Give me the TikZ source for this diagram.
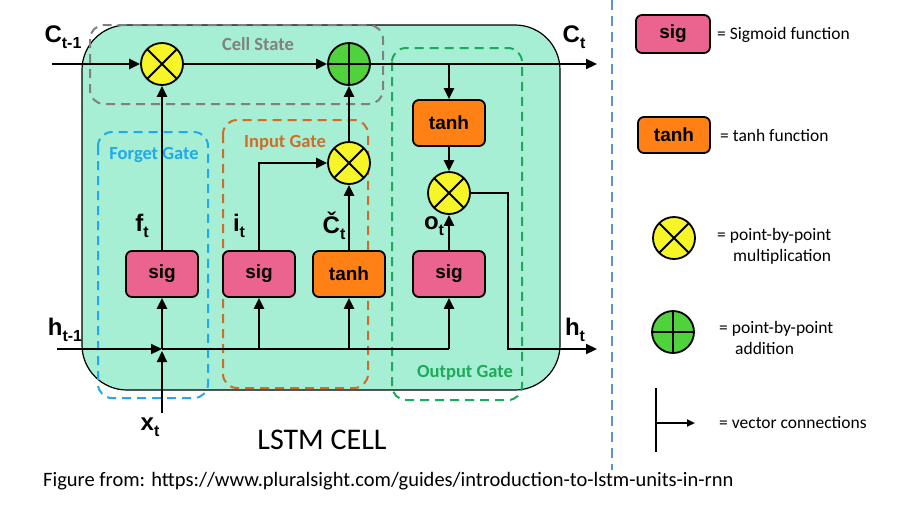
\documentclass[tikz,border=0pt]{standalone}
\usepackage{fontspec}
\setmainfont{Carlito}
\newfontfamily\lab{Liberation Sans}
\usetikzlibrary{arrows.meta}
\definecolor{mint}{RGB}{166,238,212}
\definecolor{sigpink}{RGB}{234,100,143}
\definecolor{tanhorange}{RGB}{255,128,20}
\definecolor{opyellow}{RGB}{245,245,40}
\definecolor{opgreen}{RGB}{80,210,60}
\definecolor{cellgray}{RGB}{128,128,128}
\definecolor{forgetblue}{RGB}{30,170,235}
\definecolor{inputorange}{RGB}{205,110,40}
\definecolor{outgreen}{RGB}{30,170,90}
\definecolor{sepblue}{RGB}{90,145,215}
\newcommand\sbs[1]{\raisebox{-0.5ex}{\fontsize{16}{16}\selectfont #1}}
\begin{document}
\begin{tikzpicture}[x=1pt,y=-1pt,
  wire/.style={line width=2.2pt},
  conn/.style={line width=2.2pt,-{Triangle[length=11pt,width=10pt]}},
  fbox/.style={draw,line width=1.8pt,rounded corners=6pt,minimum width=72pt,minimum height=46pt,inner sep=0pt,font=\lab\bfseries\fontsize{19}{19}\selectfont},
  sigbox/.style={fbox,fill=sigpink},
  tanhbox/.style={fbox,fill=tanhorange},
  mulop/.style={circle,draw,line width=1.8pt,fill=opyellow,minimum size=42pt,inner sep=0pt,
    path picture={\draw[line width=1.8pt] (path picture bounding box.north west)--(path picture bounding box.south east)
      (path picture bounding box.north east)--(path picture bounding box.south west);}},
  addop/.style={circle,draw,line width=1.8pt,fill=opgreen,minimum size=42pt,inner sep=0pt,
    path picture={\draw[line width=1.8pt] (path picture bounding box.north)--(path picture bounding box.south)
      (path picture bounding box.east)--(path picture bounding box.west);}},
  var/.style={font=\lab\bfseries\fontsize{24}{24}\selectfont,inner sep=0pt},
  gatebox/.style={dashed,dash pattern=on 9pt off 6pt,line width=2pt,rounded corners=14pt},
  gatelabel/.style={font=\bfseries\fontsize{18.5}{18.5}\selectfont,inner sep=0pt},
  legtext/.style={font=\fontsize{17.5}{21}\selectfont,anchor=west,align=left,inner sep=0pt}
]
\useasboundingbox (0,0) rectangle (909,528);
% main cell
\draw[fill=mint,line width=1.2pt,rounded corners=45pt] (82,25) rectangle (560,390);
% gate regions
\draw[gatebox,cellgray] (90,25) rectangle (383,104);
\node[gatelabel,cellgray] (lcell) at (258,44) {Cell State};
\draw[gatebox,forgetblue] (98,132) rectangle (208,398);
\node[gatelabel,forgetblue] (lforget) at (154,155) {Forget Gate};
\draw[gatebox,inputorange] (223,120) rectangle (368,388);
\node[gatelabel,inputorange] (linput) at (285,143) {Input Gate};
\draw[gatebox,outgreen] (392,48) rectangle (522,400);
\node[gatelabel,outgreen] (loutput) at (465,373) {Output Gate};

% operation nodes
\node[mulop] (mf) at (162,64) {};
\node[addop] (pl) at (349,64) {};
\node[mulop] (mi) at (349,163) {};
\node[mulop] (mo) at (449,193) {};
\node[sigbox] (sf) at (162,274) {sig};
\node[sigbox] (si) at (259,274) {sig};
\node[tanhbox] (tc) at (349,274) {tanh};
\node[sigbox] (so) at (449,274) {sig};
\node[tanhbox] (tt) at (449,123) {tanh};

% end points
\coordinate (cin) at (52,64);
\coordinate (cout) at (597,64);
\coordinate (ctap) at (449,64);
\coordinate (hin) at (57,349);
\coordinate (jn) at (162,349);
\coordinate (xin) at (162,413);
\coordinate (bi) at (259,349);
\coordinate (bc) at (349,349);
\coordinate (bo) at (449,349);
\coordinate (ic) at (259,163);
\coordinate (hc1) at (508,193);
\coordinate (hc2) at (508,349);
\coordinate (hout) at (597,349);

% connectors
\draw[conn] (cin) -- (mf);
\draw[conn] (mf) -- (pl);
\draw[conn] (pl) -- (cout);
\draw[conn] (ctap) -- (tt);
\draw[conn] (tt) -- (mo);
\draw[conn] (so) -- (mo);
\draw[conn] (sf) -- (mf);
\draw[conn] (si.north) -- (ic) -- (mi);
\draw[conn] (tc) -- (mi);
\draw[conn] (mi) -- (pl);
\draw[conn] (hin) -- (jn);
\draw[conn] (xin) -- ([yshift=-2pt]jn);
\draw[conn] (jn) -- (sf);
\draw[wire] (jn) -- (bo);
\draw[conn] (bi) -- (si);
\draw[conn] (bc) -- (tc);
\draw[conn] (bo) -- (so);
\draw[conn] (mo.east) -- (hc1) -- (hc2) -- (hout);

% variable labels
\node[var] (lct1) at (63,37) {C\sbs{t-1}};
\node[var] (lct) at (574,37) {C\sbs{t}};
\node[var] (lht1) at (65,330) {h\sbs{t-1}};
\node[var] (lht) at (575,330) {h\sbs{t}};
\node[var] (lxt) at (150,427) {x\sbs{t}};
\node[var] (lft) at (142,226) {f\sbs{t}};
\node[var] (lit) at (239,226) {i\sbs{t}};
\node[var] (lcct) at (334,226) {Č\sbs{t}};
\node[var] (lot) at (434,226) {o\sbs{t}};

\node[font=\fontsize{30}{30}\selectfont,inner sep=0pt] (title) at (322,440) {LSTM CELL};
\node[font=\fontsize{20.5}{20.5}\selectfont,anchor=west,inner sep=0pt] (src) at (43,481) {Figure from: https://www.pluralsight.com/guides/introduction-to-lstm-units-in-rnn};

% separator
\coordinate (s1) at (612,0);
\coordinate (s2) at (612,470);
\draw[sepblue,line width=1.6pt,dash pattern=on 10pt off 6pt] (s1) -- (s2);

% legend
\node[sigbox,minimum width=74pt,minimum height=38pt] (gs) at (673,34) {sig};
\node[legtext] (ts) at (717,35) {= Sigmoid function};
\node[tanhbox,minimum width=72pt,minimum height=36pt] (gt) at (674,135) {tanh};
\node[legtext] (tt2) at (720,135) {= tanh function};
\node[mulop] (gm) at (674,238) {};
\node[legtext] (tm) at (717,246) {= point-by-point\\\hspace*{16pt}multiplication};
\node[addop] (ga) at (673,332) {};
\node[legtext] (ta) at (719,338) {= point-by-point\\\hspace*{16pt}addition};
\coordinate (v1) at (656,388);
\coordinate (v2) at (656,452);
\coordinate (vm) at (656,423);
\coordinate (ve) at (695,423);
\draw[wire] (v1) -- (v2);
\draw[line width=2pt,-{Triangle[length=8pt,width=7pt]}] (vm) -- (ve);
\node[legtext] (tv) at (719,423) {= vector connections};
\end{tikzpicture}
\end{document}
